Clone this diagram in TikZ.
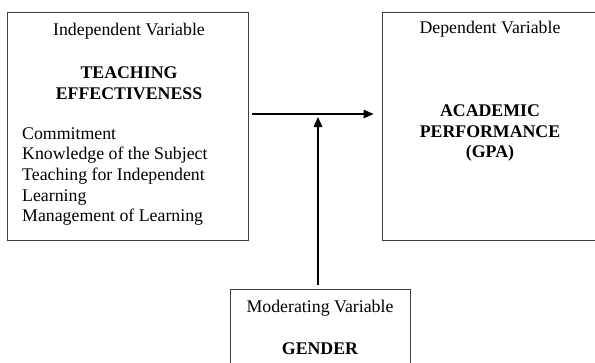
\documentclass[tikz,border=0pt]{standalone}
\usepackage{fontspec}
\setmainfont{Liberation Serif}
\usepackage{tikz}
\usetikzlibrary{positioning,arrows.meta,calc}
\tikzset{
  varbox/.style={draw=black!75,line width=0.9pt,inner sep=0pt},
  lbl/.style={font=\fontsize{17.8}{20.7}\selectfont,inner sep=0pt},
  blbl/.style={lbl,font=\fontsize{17.8}{20.7}\selectfont\bfseries,align=center},
  arr/.style={-{Triangle[length=10pt,width=8.5pt]},line width=1.3pt},
}
\begin{document}
\begin{tikzpicture}[x=1pt,y=-1pt]
  \useasboundingbox (0,0) rectangle (595,362);
  \clip (0,0) rectangle (595,362);
  % ---- boxes ----
  \node[varbox,minimum width=240.5pt,minimum height=228pt] (indep) at (127.75,126) {};
  \node[varbox,minimum width=216pt,minimum height=228pt] (dep) at (490,126) {};
  \node[varbox,minimum width=180pt,minimum height=81pt] (moder) at (320,329.5) {};
  % ---- texts ----
  \node[lbl] (indeplbl) at (129,31) {Independent Variable};
  \node[blbl] (teach) at (129,83) {TEACHING\\EFFECTIVENESS};
  \node[lbl,align=left,anchor=west] (items) at (22,176.5)
    {Commitment\\Knowledge of the Subject\\Teaching for Independent\\Learning\\Management of Learning};
  \node[lbl] (deplbl) at (490,29) {Dependent Variable};
  \node[blbl] (acad) at (490,133) {ACADEMIC\\PERFORMANCE\\(GPA)};
  \node[lbl] (moderlbl) at (320,308) {Moderating Variable};
  \node[blbl] (gender) at (320,349) {GENDER};
  % ---- arrows ----
  \coordinate (mid) at (318,114);
  \draw[arr,shorten <=3.5pt,shorten >=8pt] (indep.east |- mid) -- (dep.west |- mid);
  \draw[arr,shorten <=4pt,shorten >=3pt] (moder.north -| mid) -- (mid);
\end{tikzpicture}
\end{document}
